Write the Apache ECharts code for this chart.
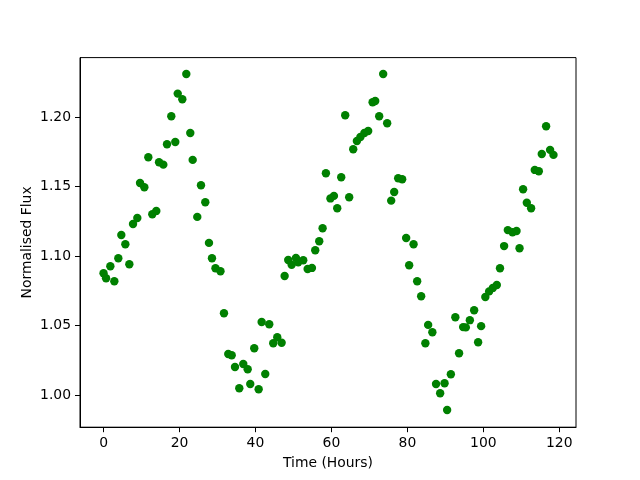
<!DOCTYPE html>
<html>
<head>
<meta charset="utf-8">
<script src="https://cdn.jsdelivr.net/npm/echarts@6/dist/echarts.min.js"></script>
<style>html,body{margin:0;padding:0;background:#fff}#c{width:640px;height:480px}</style>
</head>
<body>
<div id="c"></div>
<script>
const timeHours = [0.0,0.66,1.79,2.84,3.89,4.68,5.74,6.79,7.76,8.89,9.61,10.74,11.79,12.84,13.89,14.61,15.74,16.71,17.84,18.89,19.53,20.74,21.79,22.84,23.47,24.68,25.66,26.79,27.76,28.55,29.47,30.79,31.71,32.84,33.74,34.61,35.74,36.79,37.95,38.63,39.68,40.84,41.63,42.58,43.63,44.68,45.74,46.89,47.68,48.63,49.53,50.66,51.26,52.58,53.74,54.87,55.74,56.79,57.68,58.55,59.74,60.66,61.53,62.58,63.63,64.68,65.74,66.71,67.63,68.68,69.68,70.84,71.53,72.58,73.63,74.68,75.74,76.53,77.58,78.63,79.68,80.47,81.63,82.58,83.63,84.74,85.47,86.58,87.55,88.63,89.79,90.47,91.45,92.63,93.61,94.68,95.39,96.45,97.58,98.63,99.42,100.53,101.53,102.5,103.55,104.39,105.47,106.45,107.68,108.74,109.53,110.47,111.45,112.58,113.55,114.61,115.39,116.53,117.58,118.47];
const normalisedFlux = [1.0876,1.0840,1.0926,1.0818,1.0983,1.1151,1.1084,1.0940,1.1230,1.1273,1.1525,1.1494,1.1710,1.1300,1.1324,1.1674,1.1657,1.1804,1.2005,1.1820,1.2168,1.2127,1.2309,1.1885,1.1691,1.1281,1.1509,1.1386,1.1094,1.0983,1.0912,1.0890,1.0588,1.0295,1.0286,1.0201,1.0048,1.0223,1.0185,1.0079,1.0336,1.0041,1.0525,1.0151,1.0509,1.0372,1.0415,1.0376,1.0856,1.0971,1.0937,1.0986,1.0955,1.0969,1.0906,1.0914,1.1041,1.1106,1.1199,1.1595,1.1414,1.1432,1.1343,1.1566,1.2012,1.1422,1.1768,1.1827,1.1856,1.1885,1.1899,1.2106,1.2115,1.2005,1.2309,1.1955,1.1398,1.1460,1.1559,1.1552,1.1129,1.0933,1.1084,1.0818,1.0710,1.0372,1.0504,1.0451,1.0079,1.0012,1.0084,0.9892,1.0149,1.0559,1.0300,1.0488,1.0486,1.0538,1.0609,1.0379,1.0495,1.0705,1.0745,1.0770,1.0791,1.0912,1.1071,1.1186,1.1171,1.1180,1.1055,1.1480,1.1383,1.1343,1.1619,1.1609,1.1734,1.1933,1.1763,1.1727];
const xTicks = [0,20,40,60,80,100,120];
const yTicks = [1.00,1.05,1.10,1.15,1.20];

const points = timeHours.map((t,i)=>[t, normalisedFlux[i]]);
const font = 'DejaVu Sans';
const chart = echarts.init(document.getElementById('c'), null, {renderer:'canvas'});
chart.setOption({
  animation:false,
  backgroundColor:'#fff',
  grid:{left:80, right:64, top:57.6, bottom:52.8, show:true, borderColor:'#000', borderWidth:1, backgroundColor:'transparent'},
  xAxis:{
    type:'value', min:-6.2, max:124.4,
    name:'Time (Hours)', nameLocation:'middle', nameGap:29, nameMoveOverlap:false,
    nameTextStyle:{fontFamily:font, fontSize:13.9, color:'#000'},
    axisLine:{show:true, onZero:false, lineStyle:{color:'#000', width:1}},
    axisTick:{show:true, inside:false, length:5, customValues:xTicks, lineStyle:{color:'#000'}},
    axisLabel:{customValues:xTicks, margin:9, fontFamily:font, fontSize:13.9, color:'#000', formatter:v=>String(v)},
    splitLine:{show:false}
  },
  yAxis:{
    type:'value', min:0.9768, max:1.2427,
    name:'Normalised Flux', nameLocation:'middle', nameGap:46, nameRotate:90, nameMoveOverlap:false,
    nameTextStyle:{fontFamily:font, fontSize:13.9, color:'#000'},
    axisLine:{show:true, onZero:false, lineStyle:{color:'#000', width:1}},
    axisTick:{show:true, inside:false, length:5, customValues:yTicks, lineStyle:{color:'#000'}},
    axisLabel:{customValues:yTicks, margin:9, fontFamily:font, fontSize:13.9, color:'#000', formatter:v=>v.toFixed(2)},
    splitLine:{show:false}
  },
  series:[{
    type:'scatter', data:points, symbol:'circle', symbolSize:8.4,
    itemStyle:{color:'#008000', opacity:1}
  }]
});
</script>
</body>
</html>
